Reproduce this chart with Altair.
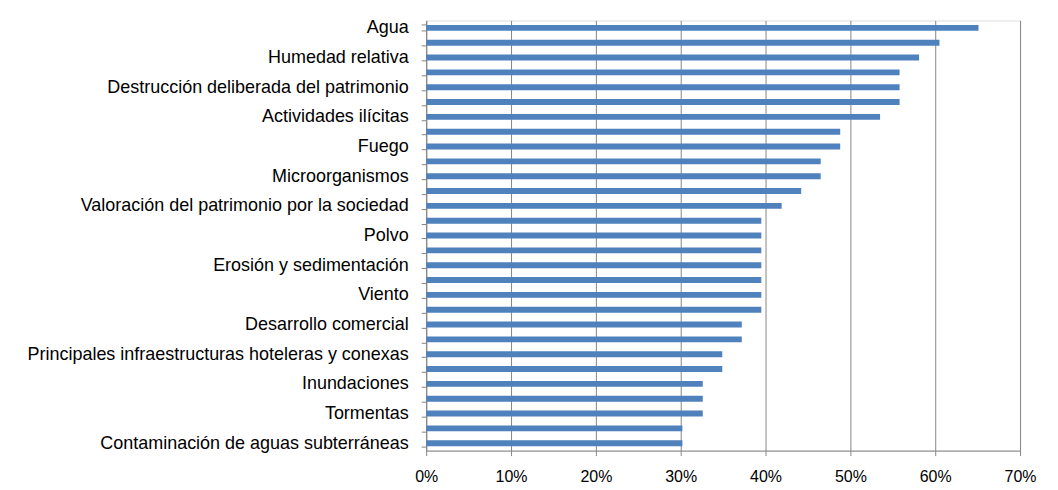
import json
import altair as alt
import pandas as pd

labels = [
    "Agua", "", "Humedad relativa", "", "Destrucción deliberada del patrimonio", "",
    "Actividades ilícitas", "", "Fuego", "", "Microorganismos", "",
    "Valoración del patrimonio por la sociedad", "", "Polvo", "",
    "Erosión y sedimentación", "", "Viento", "", "Desarrollo comercial", "",
    "Principales infraestructuras hoteleras y conexas", "", "Inundaciones", "",
    "Tormentas", "", "Contaminación de aguas subterráneas",
]
values = [
    0.651, 0.605, 0.581, 0.558, 0.558, 0.558, 0.535, 0.488, 0.488, 0.465,
    0.465, 0.442, 0.419, 0.395, 0.395, 0.395, 0.395, 0.395, 0.395, 0.395,
    0.372, 0.372, 0.349, 0.349, 0.326, 0.326, 0.326, 0.302, 0.302,
]
x_ticks = [0, 0.1, 0.2, 0.3, 0.4, 0.5, 0.6, 0.7]

df = pd.DataFrame({"idx": list(range(len(values))), "label": labels, "value": values})

label_expr = json.dumps(labels, ensure_ascii=False) + "[datum.value]"

GRAY = "#868686"
FONT = "Liberation Sans"

chart = alt.Chart(df).mark_bar(color="#4F81BD").encode(
    x=alt.X(
        "value:Q",
        scale=alt.Scale(domain=[0, 0.7], nice=False),
        axis=alt.Axis(
            values=x_ticks, format=".0%", title=None, grid=True, gridColor=GRAY,
            gridWidth=1, domainColor=GRAY, tickColor=GRAY, tickSize=5,
            labelFont=FONT, labelFontSize=16, labelColor="#000000", labelPadding=13,
            labelFlush=False,
        ),
    ),
    y=alt.Y(
        "idx:O",
        sort="ascending",
        scale=alt.Scale(paddingInner=0.6, paddingOuter=0.3),
        axis=alt.Axis(
            title=None, labelExpr=label_expr, tickBand="extent", domainColor=GRAY,
            tickColor=GRAY, tickSize=5, labelFont=FONT, labelFontSize=18,
            labelColor="#000000", labelPadding=13, labelLimit=500,
        ),
    ),
).properties(
    width=595,
    height=431,
    autosize=alt.AutoSizeParams(type="none"),
    padding={"left": 419, "top": 12, "right": 30, "bottom": 38},
).configure_view(stroke=None).configure(background="#ffffff")

chart.save("out.html", embed_options={"renderer": "svg", "actions": False})
